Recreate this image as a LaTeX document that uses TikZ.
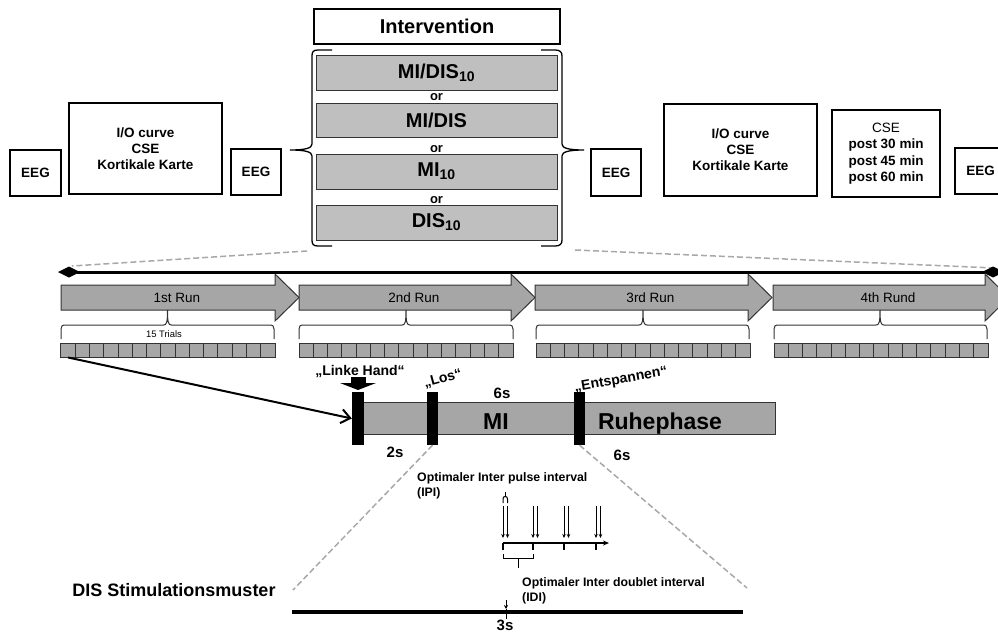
\documentclass[tikz,border=0pt]{standalone}
\usepackage{fontspec}
\setmainfont{Liberation Sans}
\usetikzlibrary{arrows.meta}
\newcommand\myfs[2]{\fontsize{#1}{#2}\selectfont}
\definecolor{boxgray}{HTML}{BFBFBF}
\definecolor{rungray}{HTML}{A6A6A6}
\definecolor{dashgray}{HTML}{A8A8A8}
\definecolor{edge}{HTML}{333333}
\begin{document}
\begin{tikzpicture}[x=1pt,y=-1pt,
  wbox/.style={draw=black, line width=1.3pt, fill=white, inner sep=0pt, align=center, font=\bfseries\myfs{13.5}{16}},
  gbox/.style={draw=edge, line width=1pt, fill=boxgray, minimum width=241pt, minimum height=35pt, inner sep=0pt, font=\bfseries\myfs{20}{24}},
  ortext/.style={font=\bfseries\myfs{13}{14}, anchor=base, inner sep=0pt},
  runshape/.style={draw=edge, line width=1pt, fill=rungray},
  trial/.style={draw=edge, line width=1pt, fill=rungray, minimum width=14.27pt, minimum height=14pt, inner sep=0pt},
  tbrace/.style={draw=edge, line width=1pt},
  blackbar/.style={fill=black, minimum width=12pt, minimum height=53pt, inner sep=0pt},
  zoomline/.style={draw=dashgray, dash pattern=on 6pt off 3pt, line width=1.5pt},
  bigbrace/.style={draw=black, line width=1.3pt},
  lbl/.style={font=\bfseries\myfs{14}{16}, inner sep=0pt},
  pulse/.style={line width=1pt, -{Stealth[length=4pt,width=3.5pt]}}
]
\useasboundingbox (0,0) rectangle (998,632);
\clip (0,0) rectangle (998,632);

% ---------- top row ----------
\node[wbox, minimum width=51pt, minimum height=46pt] (eeg1) at (35.5,173) {EEG};
\node[wbox, line width=1.6pt, minimum width=153pt, minimum height=91pt] (io1) at (145.5,148.5) {I/O curve\\CSE\\Kortikale Karte};
\node[wbox, minimum width=50pt, minimum height=46pt] (eeg2) at (256,172) {EEG};

\node[wbox, line width=1.1pt, minimum width=246pt, minimum height=35pt, font=\bfseries\myfs{20}{24}] (interv) at (437,26.5) {Intervention};
\node[gbox] (g1) at (436.5,72.5) {MI/DIS\textsubscript{10}};
\node[gbox, minimum height=34pt] (g2) at (436.5,120) {MI/DIS};
\node[gbox] (g3) at (436.5,171.5) {MI\textsubscript{10}};
\node[gbox] (g4) at (436.5,222.5) {DIS\textsubscript{10}};
\node[ortext] (or1) at (436.5,100) {or};
\node[ortext] (or2) at (436.5,152) {or};
\node[ortext] (or3) at (436.5,203) {or};

% big braces
\draw[bigbrace] (332,50) -- (318,50) .. controls (313,50) and (312,52) .. (312,56) -- (312,144)
  .. controls (312,148) and (306,150) .. (290,150) .. controls (306,150) and (312,152) .. (312,156)
  -- (312,240) .. controls (312,244) and (313,246) .. (318,246) -- (332,246);
\draw[bigbrace] (541,50) -- (555,50) .. controls (560,50) and (562,52) .. (562,56) -- (562,144)
  .. controls (562,148) and (568,150) .. (584,150) .. controls (568,150) and (562,152) .. (562,156)
  -- (562,240) .. controls (562,244) and (560,246) .. (555,246) -- (541,246);

\node[wbox, minimum width=50pt, minimum height=47pt] (eeg3) at (616,172.5) {EEG};
\node[wbox, line width=1.6pt, minimum width=153pt, minimum height=92pt] (io2) at (740.5,150) {I/O curve\\CSE\\Kortikale Karte};
\node[wbox, line width=1.1pt, minimum width=108pt, minimum height=87pt, font=\myfs{13.5}{16.5}] (cse) at (886,153.5) {CSE\\\textbf{post 30 min}\\\textbf{post 45 min}\\\textbf{post 60 min}};
\node[wbox, minimum width=51pt, minimum height=46pt] (eeg4) at (980.5,171) {EEG};

% ---------- zoom lines to timeline ----------
\coordinate (zl1) at (307,251);
\coordinate (zl2) at (72,266);
\coordinate (zr1) at (575,250);
\coordinate (zr2) at (995,268);
\draw[zoomline] (zl1) -- (zl2);
\draw[zoomline] (zr1) -- (zr2);

% ---------- timeline ----------
\coordinate (tlL) at (58,272);
\coordinate (tlR) at (1004,272);
\draw[line width=3pt, {Diamond[length=22pt,width=11pt]}-{Diamond[length=22pt,width=11pt]}] (tlL) -- (tlR);

% ---------- runs ----------
\foreach \xs/\xt/\lab/\n in {61/299/1st Run/1, 299/535/2nd Run/2, 535/772/3rd Run/3, 773/1009/4th Rund/4} {
  \draw[runshape] (\xs,285) -- (\xt-24,285) -- (\xt-24,274) -- (\xt,297.5) -- (\xt-24,321) -- (\xt-24,310) -- (\xs,310) -- cycle;
  \node[font=\myfs{13.5}{16}, inner sep=0pt] (run\n) at ({(\xs+\xt)/2-3},297.5) {\lab};
}

% braces under runs
\foreach \L/\R/\C in {61/274/167.5, 299/513/406, 536/749/643, 774/987/880} {
  \draw[tbrace] (\L,339) -- (\L,329) .. controls (\L,326) and (\L+1,325) .. (\L+5,325) -- (\C-4,325)
    .. controls (\C-1,325) and (\C,323) .. (\C,310) .. controls (\C,323) and (\C+1,325) .. (\C+4,325)
    -- (\R-5,325) .. controls (\R-1,325) and (\R,326) .. (\R,329) -- (\R,339);
}
\node[font=\myfs{9.4}{11}, inner sep=0pt] (trials) at (164,334) {15 Trials};

% trial squares
\foreach \r/\xs/\xe in {1/61/275, 2/299/513, 3/536/750, 4/774/988} {
  \foreach \i in {1,...,15} {
    \node[trial] (t\r-\i) at ({\xs + (\i-0.5)*(\xe-\xs)/15}, 350) {};
  }
}

% ---------- trial detail ----------
\node[draw=edge, line width=1pt, fill=rungray, minimum width=412pt, minimum height=32pt, inner sep=0pt] (mibar) at (569,418) {};
\node[blackbar] (bar1) at (358,418.5) {};
\node[blackbar, minimum width=11pt] (bar2) at (432.5,418.5) {};
\node[blackbar, minimum width=11pt] (bar3) at (579.5,418.5) {};

\draw[line width=2pt, -{Straight Barb[length=9pt,width=14pt]}] (t1-1.south) -- (bar1.west);

\node[lbl, anchor=base] (lh) at (360,375) {„Linke Hand“};
\fill (351,377) rectangle (366,384);
\fill (340,383) -- (376,383) -- (358,390) -- cycle;
\node[lbl, rotate=15] (los) at (443,379) {„Los“};
\node[lbl, rotate=10] (ent) at (621,380) {„Entspannen“};
\node[font=\bfseries\myfs{15}{17}, inner sep=0pt] (six1) at (502,393) {6s};
\node[font=\bfseries\myfs{23}{26}, inner sep=0pt, anchor=base] (mi) at (496,429) {MI};
\node[font=\bfseries\myfs{23}{26}, inner sep=0pt, anchor=base] (ruhe) at (660,429) {Ruhephase};
\node[font=\bfseries\myfs{15}{17}, inner sep=0pt] (two) at (395,452) {2s};
\node[font=\bfseries\myfs{15}{17}, inner sep=0pt] (six2) at (622,455) {6s};

% zoom lines to DIS
\coordinate (dz1) at (293,590);
\coordinate (dz2) at (747,588);
\draw[zoomline] (bar2.south) -- (dz1);
\draw[zoomline] (bar3.south) -- (dz2);

% ---------- DIS pattern ----------
\node[font=\bfseries\myfs{18}{20}, inner sep=0pt] (dis) at (174,590) {DIS Stimulationsmuster};
\coordinate (dl) at (292,612);
\coordinate (dr) at (743,612);
\draw[line width=3.5pt] (dl) -- (dr);
\coordinate (m3a) at (506,600);
\coordinate (m3b) at (506,609);
\coordinate (m3c) at (506,619);
\draw[line width=1pt, -{Stealth[length=4pt,width=4pt]}] (m3a) -- (m3b);
\draw[line width=1pt] (m3b) -- (m3c);
\node[font=\bfseries\myfs{15}{17}, inner sep=0pt] (three) at (505,625) {3s};

\node[font=\bfseries\myfs{12.3}{15.5}, align=left, anchor=north west, inner sep=0pt] (ipi) at (417,472) {Optimaler Inter pulse interval\\(IPI)};
\node[font=\bfseries\myfs{12.3}{15.5}, align=left, anchor=north west, inner sep=0pt] (idi) at (522,577) {Optimaler Inter doublet interval\\(IDI)};

% IPI hook
\draw[line width=1pt] (503,503) -- (503,499) .. controls (503,497) and (504,496.5) .. (505.25,496.5)
  .. controls (506.5,496.5) and (507.5,497) .. (507.5,499) -- (507.5,503);
\draw[line width=1pt] (505.25,496.5) -- (505.25,492);

% pulses
\foreach \xa in {503,533,564,596} {
  \draw[pulse] (\xa,506) -- (\xa,538);
  \draw[pulse] (\xa+4.5,506) -- (\xa+4.5,538);
  \draw[line width=1.2pt] (\xa,543) -- (\xa,550);
}
\coordinate (ax1) at (503,543);
\coordinate (ax2) at (609,543);
\draw[line width=1.3pt, -{Stealth[length=6pt,width=5pt]}] (ax1) -- (ax2);

% IDI bracket
\draw[line width=1pt] (503,554) -- (503,558) -- (533,558) -- (533,554);
\draw[line width=1pt] (518,558) -- (518,568);
\end{tikzpicture}
\end{document}
